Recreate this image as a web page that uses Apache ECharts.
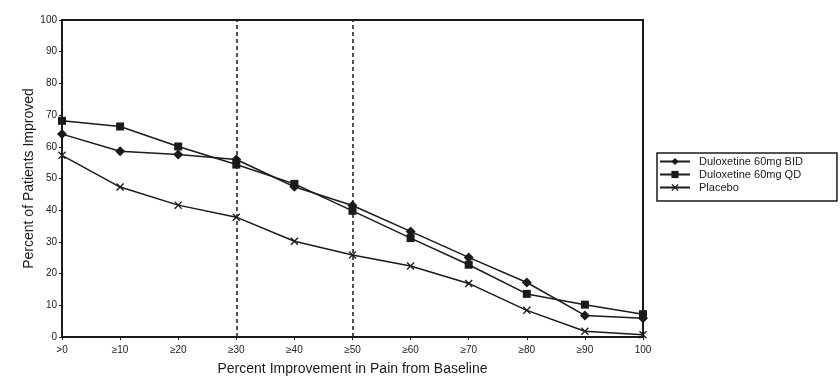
<!DOCTYPE html>
<html><head><meta charset="utf-8">
<script src="https://cdn.jsdelivr.net/npm/echarts@6/dist/echarts.min.js"></script>
<style>html,body{margin:0;padding:0;background:#fff}#c{width:840px;height:389px}</style>
</head><body><div id="c"></div>
<script>
var categories = ['>0','≥10','≥20','≥30','≥40','≥50','≥60','≥70','≥80','≥90','100'];
var bid = [64.0, 58.6, 57.6, 56.0, 47.4, 41.5, 33.3, 25.1, 17.2, 6.8, 5.9];
var qd = [68.2, 66.4, 60.1, 54.4, 48.3, 39.8, 31.2, 22.8, 13.6, 10.2, 7.2];
var placebo = [57.3, 47.3, 41.6, 37.8, 30.2, 25.9, 22.4, 16.9, 8.4, 1.8, 0.7];
var seriesNames = ['Duloxetine 60mg BID', 'Duloxetine 60mg QD', 'Placebo'];
var refLines = ['≥30', '≥50'];

var xPath = 'path://M0,1.2L1.2,0L5,3.8L8.8,0L10,1.2L6.2,5L10,8.8L8.8,10L5,6.2L1.2,10L0,8.8L3.8,5Z';
var ink = '#1a1a1a';
function mk(name, data, symbol, size) {
  return {
    name: name, type: 'line', data: data, symbol: symbol, symbolSize: size,
    lineStyle: {color: ink, width: 1.5}, itemStyle: {color: ink}, animation: false,
    z: 3
  };
}
var series = [
  mk(seriesNames[0], bid, 'diamond', 10),
  mk(seriesNames[1], qd, 'rect', 8),
  mk(seriesNames[2], placebo, xPath, 8)
];
series[0].markLine = {
  silent: true, symbol: 'none', label: {show: false},
  lineStyle: {color: ink, type: [4, 3], width: 1.5},
  data: refLines.map(function (c) { return {xAxis: c}; })
};
var chart = echarts.init(document.getElementById('c'), null, {renderer: 'canvas'});
chart.setOption({
  animation: false,
  backgroundColor: '#fff',
  textStyle: {fontFamily: 'Liberation Sans, Arial, sans-serif', color: ink},
  grid: {left: 62, right: 197, top: 20, bottom: 52, show: true, borderColor: ink, borderWidth: 2},
  legend: {
    orient: 'vertical', left: 657, top: 153, itemGap: 2, itemWidth: 30, itemHeight: 9,
    borderColor: ink, borderWidth: 1.5, padding: [3, 34, 8, 2], borderRadius: 0,
    textStyle: {fontSize: 11, color: ink, fontFamily: 'Liberation Sans, Arial, sans-serif', padding: [0, 0, 0, 4]},
    data: seriesNames
  },
  xAxis: {
    type: 'category', data: categories, boundaryGap: false,
    name: 'Percent Improvement in Pain from Baseline', nameLocation: 'middle', nameGap: 25,
    nameMoveOverlap: false,
    nameTextStyle: {fontSize: 14, color: ink},
    axisLine: {lineStyle: {color: ink, width: 2}},
    axisTick: {show: true, alignWithLabel: true, length: 3, lineStyle: {color: ink}},
    axisLabel: {fontSize: 10, color: ink, margin: 8}
  },
  yAxis: {
    type: 'value', min: 0, max: 100, interval: 10,
    name: 'Percent of Patients Improved', nameLocation: 'middle', nameGap: 26,
    nameMoveOverlap: false,
    nameTextStyle: {fontSize: 14, color: ink},
    axisLine: {show: true, lineStyle: {color: ink, width: 2}},
    axisTick: {show: true, length: 3, lineStyle: {color: ink}},
    axisLabel: {fontSize: 10, color: ink, margin: 5},
    splitLine: {show: false}
  },
  series: series
});
</script></body></html>
